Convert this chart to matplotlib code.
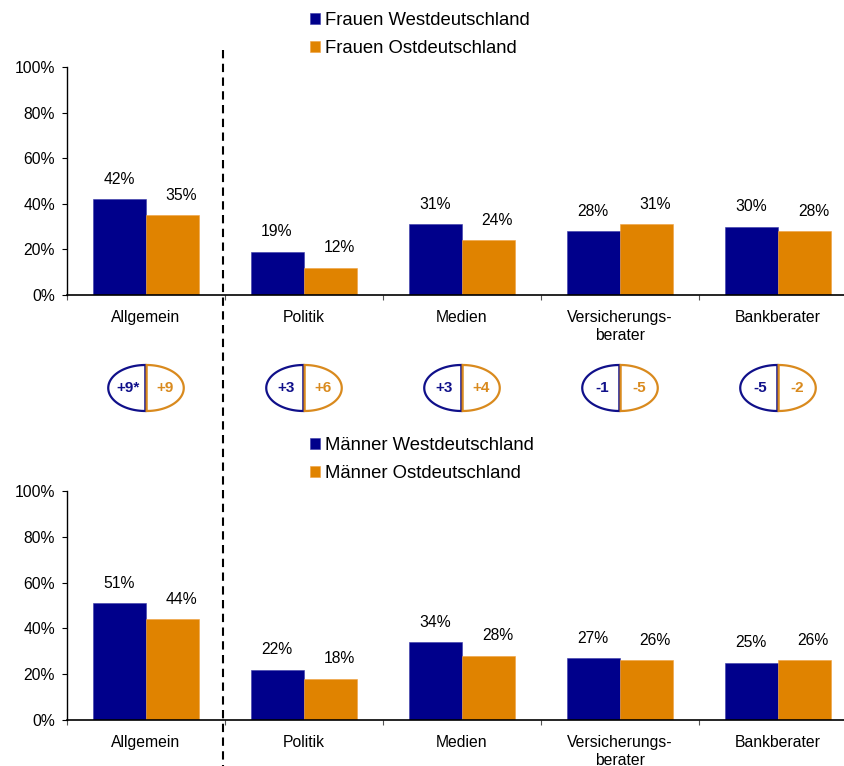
import numpy as np
import matplotlib
matplotlib.use("Agg")
import matplotlib.pyplot as plt
from matplotlib.patches import Polygon
from matplotlib.lines import Line2D

plt.rcParams["font.family"] = ["Liberation Sans", "DejaVu Sans"]

# ==================================================
# Data
# ==================================================
categories = ["Allgemein", "Politik", "Medien", "Versicherungs-\nberater", "Bankberater"]

frauen_west = [42, 19, 31, 28, 30]
frauen_ost = [35, 12, 24, 31, 28]
maenner_west = [51, 22, 34, 27, 25]
maenner_ost = [44, 18, 28, 26, 26]

# differences Männer - Frauen (as printed, * = significant)
diff_west_labels = ["+9*", "+3", "+3", "-1", "-5"]
diff_ost_labels = ["+9", "+6", "+4", "-5", "-2"]

yticks = [0, 20, 40, 60, 80, 100]

# ==================================================
# Styling
# ==================================================
BLUE = "#00008B"
ORANGE = "#E08300"
OVAL_BLUE = "#10108A"
OVAL_ORANGE = "#D98A1E"
FS = 11.3

W, H = 845, 766


def px_rect(x0, y0, x1, y1):
    return [x0 / W, 1 - y1 / H, (x1 - x0) / W, (y1 - y0) / H]


fig = plt.figure(figsize=(W / 100, H / 100), dpi=100)

ax_top = fig.add_axes(px_rect(67, 67, 857, 295))
ax_bot = fig.add_axes(px_rect(67, 491, 857, 720))
ax_mid = fig.add_axes(px_rect(67, 343, 857, 433))

x = np.arange(len(categories))
bw = 1 / 3


def draw_panel(ax, west, ost, lab_west, lab_ost, legend_y):
    bw_bars = ax.bar(x - bw / 2, west, bw, color=BLUE, label=lab_west,
                     edgecolor="#3a3aa8", linewidth=0.4)
    bo_bars = ax.bar(x + bw / 2, ost, bw, color=ORANGE, label=lab_ost,
                     edgecolor="#f0a040", linewidth=0.4)
    for xi, v in zip(x, west):
        ax.annotate(f"{v}%", (xi - bw / 2, v), xytext=(-0.5, 14.5),
                    textcoords="offset points", ha="center", va="center",
                    fontsize=FS)
    for xi, v in zip(x, ost):
        ax.annotate(f"{v}%", (xi + bw / 2, v), xytext=(6.5, 14.5),
                    textcoords="offset points", ha="center", va="center",
                    fontsize=FS)

    ax.set_xlim(-0.5, len(categories) - 0.5)
    ax.set_ylim(0, 100)
    ax.set_yticks(yticks)
    ax.set_yticklabels([f"{t}%" for t in yticks], fontsize=FS)
    ax.tick_params(axis="y", direction="out", length=3.6, width=0.8, pad=5)

    ax.set_xticks(np.arange(-0.5, len(categories)), minor=False)
    ax.set_xticklabels([])
    ax.set_xticks(x, minor=True)
    ax.set_xticklabels(categories, minor=True, fontsize=FS, linespacing=1.2)
    ax.tick_params(axis="x", which="major", direction="out", length=3.6,
                   width=0.8, color="#555555")
    ax.tick_params(axis="x", which="minor", length=0, pad=11)

    for s in ["top", "right"]:
        ax.spines[s].set_visible(False)
    ax.spines["left"].set_linewidth(1.0)
    ax.spines["bottom"].set_linewidth(1.2)

    fig.legend(handles=[bw_bars, bo_bars], loc="upper left",
               bbox_to_anchor=(310 / W, 1 - legend_y / H),
               frameon=False, fontsize=13.3, handlelength=0.55,
               handleheight=0.55, handletextpad=0.25, labelspacing=0.62,
               borderpad=0, borderaxespad=0)


draw_panel(ax_top, frauen_west, frauen_ost,
           "Frauen Westdeutschland", "Frauen Ostdeutschland", 12)
draw_panel(ax_bot, maenner_west, maenner_ost,
           "Männer Westdeutschland", "Männer Ostdeutschland", 437)

# ==================================================
# Difference ovals
# ==================================================
ax_mid.set_xlim(-0.5, len(categories) - 0.5)
ax_mid.set_ylim(-45, 45)
ax_mid.axis("off")

a = 0.235   # half width in category units
b = 23.0    # half height in pixel units
th_left = np.linspace(np.pi / 2, 3 * np.pi / 2, 60)
th_right = np.linspace(-np.pi / 2, np.pi / 2, 60)
for xi, lw_txt, lo_txt in zip(x, diff_west_labels, diff_ost_labels):
    left = np.column_stack([xi - 0.004 + a * np.cos(th_left), b * np.sin(th_left)])
    right = np.column_stack([xi + 0.004 + a * np.cos(th_right), b * np.sin(th_right)])
    ax_mid.add_patch(Polygon(left, closed=True, fill=False,
                             edgecolor=OVAL_BLUE, linewidth=1.6))
    ax_mid.add_patch(Polygon(right, closed=True, fill=False,
                             edgecolor=OVAL_ORANGE, linewidth=1.6))
    ax_mid.text(xi - 0.115, 0, lw_txt, color=OVAL_BLUE, ha="center",
                va="center", fontsize=11, fontweight="bold")
    ax_mid.text(xi + 0.12, 0, lo_txt, color=OVAL_ORANGE, ha="center",
                va="center", fontsize=11, fontweight="bold")

# ==================================================
# Dashed separator through both panels
# ==================================================
fig.add_artist(Line2D([223 / W, 223 / W], [1 - 50 / H, 0],
                      transform=fig.transFigure, color="black",
                      linewidth=1.5, dashes=(4, 2.6)))

fig.savefig("out.png", dpi=100)
